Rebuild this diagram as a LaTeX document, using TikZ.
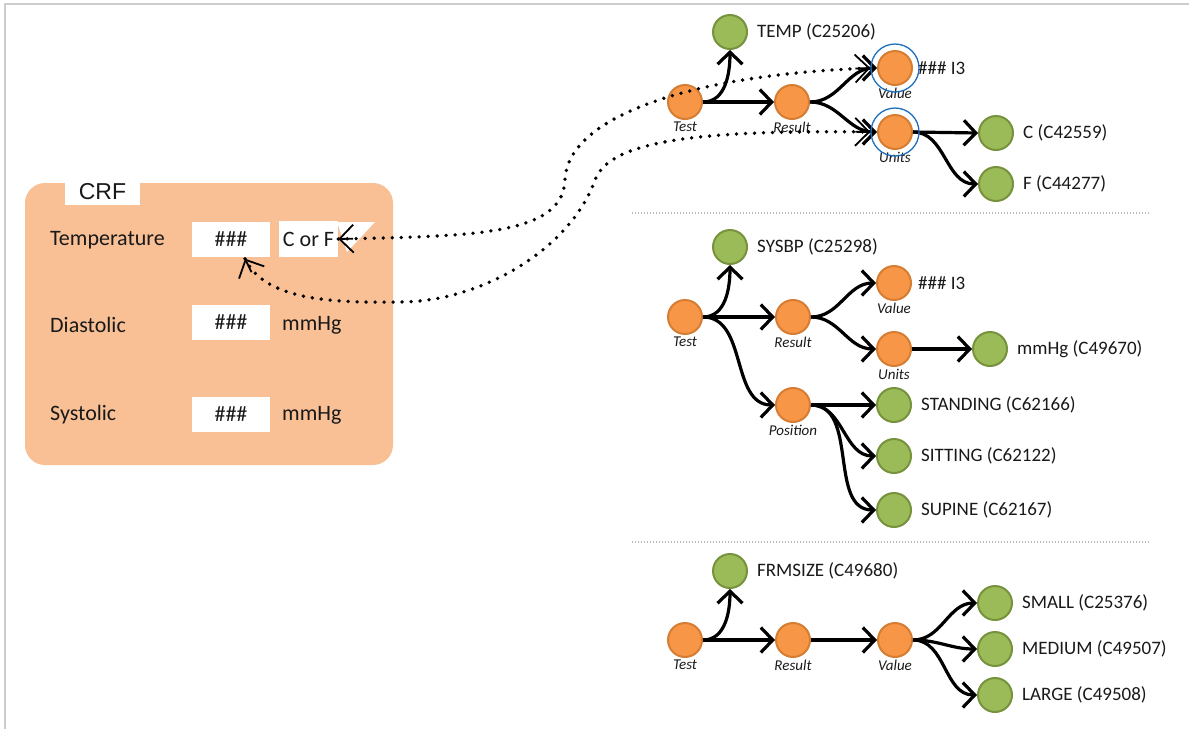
\documentclass[tikz,border=0pt]{standalone}
\usepackage{fontspec}
\setmainfont{Carlito}
\newfontfamily\tabfont{Liberation Sans}
\usetikzlibrary{arrows.meta,calc}

\definecolor{nodeorange}{RGB}{247,150,70}
\definecolor{nodeorangeline}{RGB}{214,125,52}
\definecolor{nodegreen}{RGB}{155,187,89}
\definecolor{nodegreenline}{RGB}{118,146,60}
\definecolor{crfpeach}{RGB}{249,192,150}
\definecolor{ringblue}{RGB}{30,110,190}
\definecolor{ink}{RGB}{25,25,25}
\definecolor{framegray}{RGB}{205,205,205}

\tikzset{
  concept/.style={circle, minimum size=34pt, inner sep=0pt, line width=2pt},
  attr/.style={concept, fill=nodeorange, draw=nodeorangeline},
  term/.style={concept, fill=nodegreen, draw=nodegreenline},
  tag/.style={font=\fontsize{15}{17}\selectfont\itshape, text=ink, inner sep=0pt},
  termtext/.style={font=\fontsize{19}{22}\selectfont, text=ink, inner sep=0pt},
  flow/.style={line width=3.2pt, draw=black, -{Straight Barb[length=12pt,width=25pt]}},
  ring/.style={circle, draw=ringblue, line width=1.3pt, minimum size=48pt, inner sep=0pt},
  crftext/.style={font=\fontsize{22}{26}\selectfont, text=ink, inner sep=0pt, anchor=west},
  field/.style={fill=white, inner sep=0pt, minimum width=78pt, minimum height=35pt,
    font=\fontsize{22}{26}\selectfont, text=ink},
  link/.style={line width=3.8pt, line cap=round, dash pattern=on 0pt off 9pt},
  linkhead/.style={line width=1.8pt, -{Straight Barb[length=14pt,width=28pt]}},
  divider/.style={draw=gray!55, line width=1.2pt, dash pattern=on 1pt off 2pt},
  below label/.style={label={[tag, label distance=2pt]below:#1}},
  right label/.style={label={[termtext, label distance=9pt]right:#1}},
}

\begin{document}
\begin{tikzpicture}[x=1pt, y=-1pt]
\useasboundingbox (0,0) rectangle (1189,729);

% page frame
\draw[framegray, line width=1.5pt] (5,729) -- (5,4) -- (1189,4);

% ---------------- CRF form ----------------
\node[fill=crfpeach, rounded corners=20pt, minimum width=368pt, minimum height=282pt,
      inner sep=0pt] (crf) at (209,324) {};
\node[fill=white, minimum width=75pt, minimum height=25pt, inner sep=0pt,
      font=\tabfont\fontsize{23}{26}\selectfont, text=ink] (tab) at (102.5,192) {CRF};

\node[crftext] (ltemp) at (50,240) {Temperature};
\node[crftext] (ldia) at (50,325) {Diastolic};
\node[crftext] (lsys) at (50,415) {Systolic};

\node[field] (h1) at (231,239) {\#\#\#};
\node[field] (h2) at (231,322) {\#\#\#};
\node[field] (h3) at (231,414) {\#\#\#};

% unit drop-down for temperature
\fill[white] (337,222) -- (375,222) -- (347,252) -- cycle;
\node[field, minimum width=59pt, minimum height=36pt] (cf) at (308.5,239) {C or F};
\node[crftext] (mm2) at (282,325) {mmHg};
\node[crftext] (mm3) at (282,415) {mmHg};

% ---------------- TEMP ----------------
\node[term, right label={TEMP (C25206)}] (temp1) at (730,32) {};
\node[attr, below label=Test] (t1) at (685,102) {};
\node[attr, below label=Result] (r1) at (792,102) {};
\node[attr, below label=Value, label={[termtext, label distance=5pt]right:\#\#\# I3}] (v1) at (895,68) {};
\node[attr, below label=Units] (u1) at (895,132) {};
\node[term, right label={C (C42559)}] (c1) at (996,133) {};
\node[term, right label={F (C44277)}] (f1) at (996,184) {};

\draw[flow] (t1.east) to[out=0,in=-90] (temp1.south);
\draw[flow] (t1) -- (r1);
\draw[flow] (r1.east) to[out=0,in=180] (v1.west);
\draw[flow] (r1.east) to[out=0,in=180] (u1.west);
\draw[flow] (u1.east) -- (c1.west);
\draw[flow] (u1.east) to[out=0,in=180] (f1.west);

\node[ring] (v1ring) at (v1) {};
\node[ring] (u1ring) at (u1) {};

\draw[divider] (632,213) -- (1150,213);

% ---------------- SYSBP ----------------
\node[term, right label={SYSBP (C25298)}] (sys2) at (730,247) {};
\node[attr, below label=Test] (t2) at (685,317) {};
\node[attr, below label=Result] (r2) at (793,317) {};
\node[attr, below label=Value, label={[termtext, label distance=6pt]right:\#\#\# I3}] (v2) at (894,283) {};
\node[attr, below label=Units] (u2) at (894,349) {};
\node[term, right label={mmHg (C49670)}] (mm2t) at (990,349) {};
\node[attr, below label=Position] (p2) at (793,405) {};
\node[term, right label={STANDING (C62166)}] (st2) at (894,405) {};
\node[term, right label={SITTING (C62122)}] (si2) at (894,456) {};
\node[term, right label={SUPINE (C62167)}] (su2) at (894,510) {};

\draw[flow] (t2.east) to[out=0,in=-90] (sys2.south);
\draw[flow] (t2) -- (r2);
\draw[flow] (t2.east) to[out=0,in=180] (p2.west);
\draw[flow] (r2.east) to[out=0,in=180] (v2.west);
\draw[flow] (r2.east) to[out=0,in=180] (u2.west);
\draw[flow] (u2) -- (mm2t);
\draw[flow] (p2) -- (st2);
\draw[flow] (p2.east) to[out=0,in=180] (si2.west);
\draw[flow] (p2.east) to[out=0,in=180] (su2.west);

\draw[divider] (632,542) -- (1150,542);

% ---------------- FRMSIZE ----------------
\node[term, right label={FRMSIZE (C49680)}] (frm3) at (730,571) {};
\node[attr, below label=Test] (t3) at (685,640) {};
\node[attr, below label=Result] (r3) at (793,640) {};
\node[attr, below label=Value] (v3) at (895,640) {};
\node[term, right label={SMALL (C25376)}] (sm3) at (995,603) {};
\node[term, right label={MEDIUM (C49507)}] (me3) at (995,649) {};
\node[term, right label={LARGE (C49508)}] (la3) at (995,695) {};

\draw[flow] (t3.east) to[out=0,in=-90] (frm3.south);
\draw[flow] (t3) -- (r3);
\draw[flow] (r3) -- (v3);
\draw[flow] (v3.east) to[out=0,in=180] (sm3.west);
\draw[flow] (v3.east) to[out=0,in=180] (me3.west);
\draw[flow] (v3.east) to[out=0,in=180] (la3.west);

% ---------------- form fields bound to the model ----------------
\coordinate (h1tip) at ([xshift=14pt,yshift=-2pt]h1.south);
\draw[link] (cf.east) .. controls (470,236) and (563,236) .. (565,180)
  .. controls (567,120) and (680,75) .. (v1ring.west);
\draw[link] (h1tip) .. controls (265,300) and (330,303) .. (400,302)
  .. controls (480,302) and (570,250) .. (595,180)
  .. controls (610,140) and (700,130) .. (u1ring.west);
% open heads at both ends of each binding
\draw[linkhead] ($(cf.east)!15pt!(470,236)$) -- (cf.east);
\draw[linkhead] ($(v1ring.west)!15pt!(680,75)$) -- (v1ring.west);
\draw[linkhead] ($(h1tip)!15pt!(265,300)$) -- (h1tip);
\draw[linkhead] ($(u1ring.west)!15pt!(700,130)$) -- (u1ring.west);
\end{tikzpicture}
\end{document}
